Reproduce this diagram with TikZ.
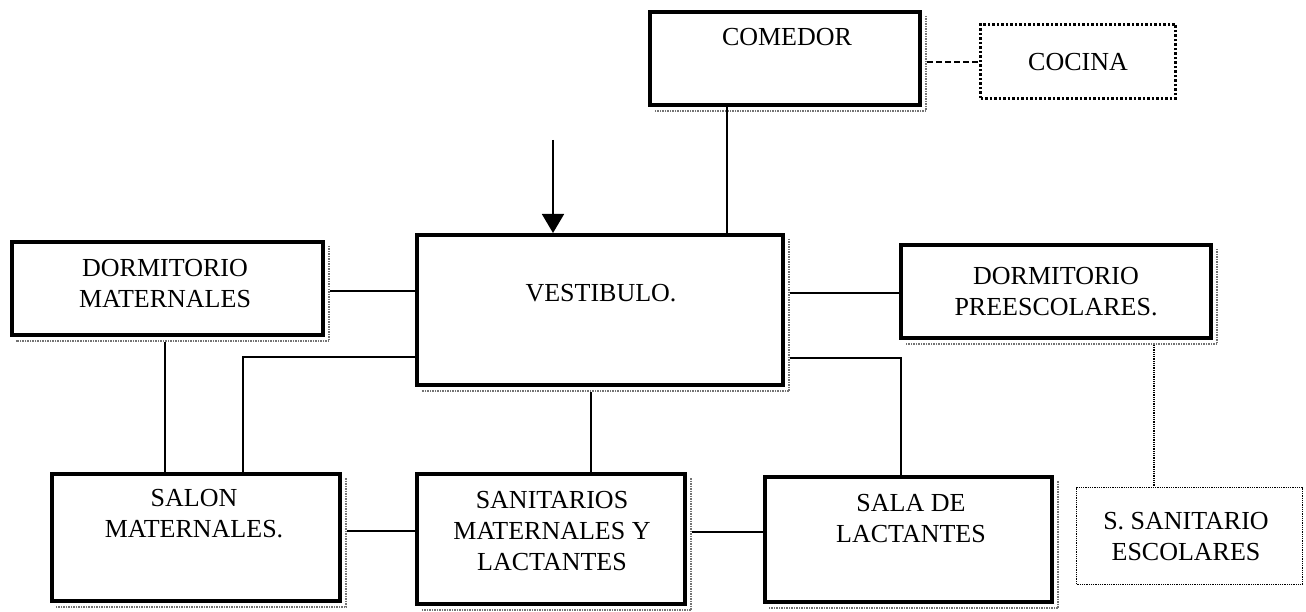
\documentclass[tikz,border=0pt]{standalone}
\usepackage{fontspec}
\setmainfont{Liberation Serif}
\usetikzlibrary{calc,arrows.meta}
\tikzset{
  room/.style={
    draw,
    shape = rectangle,
    line width = 4pt,
    inner sep = 0pt
  },
  dottedroom/.style={
    draw,
    shape = rectangle,
    line width = 3pt,
    dash pattern = on 2.5pt off 2pt,
    inner sep = 0pt
  },
  thinroom/.style={
    draw,
    shape = rectangle,
    line width = 1.2pt,
    dash pattern = on 1pt off 0.8pt,
    inner sep = 0pt
  },
  roomtext/.style={
    align = center,
    inner sep = 0pt,
    font = \fontsize{26}{31}\selectfont
  },
  link/.style={
    line width = 1.7pt
  },
  shadowline/.style={
    line width = 2.5pt,
    black!55,
    dash pattern = on 1.5pt off 1pt
  }
}

\begin{document}
\begin{tikzpicture}[x=1pt,y=-1pt]
  \useasboundingbox (0,0) rectangle (1306,612);
  % rooms
  \node[room,minimum width=270pt,minimum height=93pt] (comedor) at (785,58.5) {};
  \node[dottedroom,minimum width=195pt,minimum height=74pt] (cocina) at (1078,61.5) {};
  \node[room,minimum width=311pt,minimum height=93pt] (dormmat) at (167.5,288.5) {};
  \node[room,minimum width=366pt,minimum height=150pt] (vestibulo) at (600,310) {};
  \node[room,minimum width=310pt,minimum height=93pt] (dormpre) at (1056,291.5) {};
  \node[room,minimum width=288pt,minimum height=127pt] (salon) at (196,537.5) {};
  \node[room,minimum width=268pt,minimum height=130pt] (sanitarios) at (551,539) {};
  \node[room,minimum width=287pt,minimum height=125pt] (sala) at (908.5,539.5) {};
  \node[thinroom,minimum width=226pt,minimum height=97pt] (ssanit) at (1189.5,536) {};
  % shadows
  \foreach \r in {comedor,dormmat,vestibulo,dormpre,salon,sanitarios,sala}
    \draw[shadowline] ($(\r.north east)+(4,6)$) -- ($(\r.south east)+(4,4)$) -- ($(\r.south west)+(6,4)$);
  % texts
  \node[roomtext] (comedor-t) at (787,37) {COMEDOR};
  \node[roomtext] (cocina-t) at (1078,62) {COCINA};
  \node[roomtext] (dormmat-t) at (165,283.5) {DORMITORIO\\MATERNALES};
  \node[roomtext] (vestibulo-t) at (601,293) {VESTIBULO.};
  \node[roomtext] (dormpre-t) at (1056,292) {DORMITORIO\\PREESCOLARES.};
  \node[roomtext] (salon-t) at (194,514) {SALON\\MATERNALES.};
  \node[roomtext] (sanitarios-t) at (552,531) {SANITARIOS\\MATERNALES Y\\LACTANTES};
  \node[roomtext] (sala-t) at (911,519) {SALA DE\\LACTANTES};
  \node[roomtext] (ssanit-t) at (1186,536.5) {S. SANITARIO\\ESCOLARES};
  % connectors
  \coordinate (entrada) at (553,140);
  \draw[link,-{Triangle[width=22pt,length=19pt]}] (entrada) -- (vestibulo.north -| entrada);
  \draw[link] (comedor.south -| 727,0) -- (vestibulo.north -| 727,0);
  \draw[link,dash pattern=on 6pt off 3pt] (comedor.east |- 0,62) ++(5,0) -- (cocina.west |- 0,62);
  \draw[link] (dormmat.east |- 0,291) ++(5,0) -- (vestibulo.west |- 0,291);
  \draw[link] (vestibulo.west |- 0,357) -| (salon.north -| 243,0);
  \draw[link] (dormmat.south -| 165,0) ++(0,5) -- (salon.north -| 165,0);
  \draw[link] (vestibulo.east |- 0,293) ++(5,0) -- (dormpre.west |- 0,293);
  \draw[link] (vestibulo.east |- 0,358) ++(5,0) -| (sala.north -| 901,0);
  \draw[link] (vestibulo.south -| 591,0) ++(0,5) -- (sanitarios.north -| 591,0);
  \draw[link] (salon.east |- 0,531) ++(5,0) -- (sanitarios.west |- 0,531);
  \draw[link] (sanitarios.east |- 0,532) ++(5,0) -- (sala.west |- 0,532);
  \draw[link,dash pattern=on 1pt off 0.8pt] (dormpre.south -| 1154,0) ++(0,5) -- (ssanit.north -| 1154,0);
\end{tikzpicture}
\end{document}
